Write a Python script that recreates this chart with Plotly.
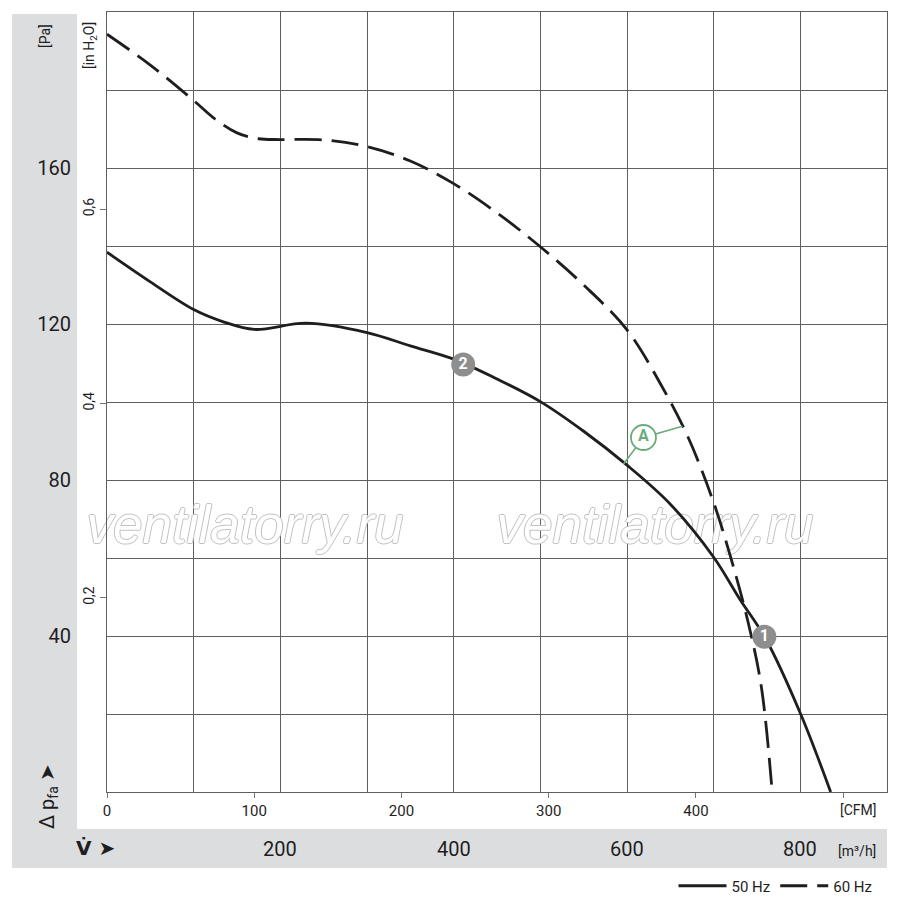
import plotly.graph_objects as go

# ---------------- data (flow in m3/h, static pressure in Pa) ----------------
flow_50hz = [0, 50, 100, 135, 170, 230, 300, 350, 400, 450, 500, 550, 600,
             650, 700, 730, 760, 800, 835]
pa_50hz = [138.4, 130.8, 123.7, 120.5, 118.6, 120.2, 117.8, 114.4, 111.0, 105.9, 100.1,
           92.5, 83.8, 73.8, 60.2, 49.5, 39.3, 20.2, 0.0]

flow_60hz = [0, 50, 100, 125, 150, 175, 200, 250, 300, 350, 400, 450, 500, 550, 600,
             640, 670, 700, 720, 740, 755, 767.5]
pa_60hz = [194.3, 186.4, 177.3, 172.5, 169.0, 167.5, 167.3, 167.2, 165.5, 161.8, 156.0,
           148.5, 139.8, 130.0, 118.5, 104.1, 91.2, 74.2, 59.9, 43.3, 27.0, 0.0]

# numbered operating points
point_labels = ["1", "2"]
point_flow = [758.5, 411]
point_pa = [39.8, 109.6]

# "A" callout: circle centre and the two curve points it refers to
a_label = "A"
a_center = (619, 90.9)
a_on_50hz = (596, 84.1)
a_on_60hz = (664, 93.8)

pa_tick_labels = [40, 80, 120, 160]
inh2o_ticks = [0.2, 0.4, 0.6]
cfm_ticks = [0, 100, 200, 300, 400, 500]
cfm_labels = ["0", "100", "200", "300", "400", ""]
m3h_labels = [200, 400, 600, 800]
series_names = ["50 Hz", "60 Hz"]
watermark = "ventilatorry.ru"

FLOW_MAX = 900
PA_MAX = 200
M3H_PER_CFM = 1.69901
PA_PER_INH2O = 249.089

# ---------------- styling ----------------
FONT = "Roboto, Liberation Sans, sans-serif"
INK = "#1e1e1e"
GRID = "#5f5f5f"
BAND = "#dcdddf"
GREEN = "#6aaa7a"
BADGE = "#8e8e8e"


def px_x(px):
    return (px - 107) / 780.0


def px_y(py):
    return (792 - py) / 780.0


fig = go.Figure()

# watermark first so the curves are drawn over it
outline = "1px 0 0 #c2c2c2, -1px 0 0 #c2c2c2, 0 1px 0 #c2c2c2, 0 -1px 0 #c2c2c2"
fig.add_trace(go.Scatter(
    x=[px_x(245) * FLOW_MAX, px_x(655) * FLOW_MAX],
    y=[px_y(530) * PA_MAX, px_y(530) * PA_MAX],
    mode="text", text=[watermark, watermark], textposition="middle center",
    textfont=dict(family="Liberation Sans, Arial, sans-serif", size=53, color="white",
                  style="italic", shadow=outline),
    showlegend=False, hoverinfo="skip", cliponaxis=False))

fig.add_trace(go.Scatter(
    x=flow_50hz, y=pa_50hz, mode="lines", name=series_names[0],
    line=dict(color=INK, width=2.8, shape="spline", smoothing=1.0),
    xaxis="x", yaxis="y", hoverinfo="skip"))
fig.add_trace(go.Scatter(
    x=flow_60hz, y=pa_60hz, mode="lines", name=series_names[1],
    line=dict(color=INK, width=2.8, shape="spline", smoothing=1.0, dash="27px,10px"),
    xaxis="x", yaxis="y", hoverinfo="skip"))

# A callout leader lines (curve point -> circle centre), then the circle
for pt in (a_on_50hz, a_on_60hz):
    fig.add_trace(go.Scatter(
        x=[pt[0], a_center[0]], y=[pt[1], a_center[1]], mode="lines",
        line=dict(color=GREEN, width=1.6), showlegend=False, hoverinfo="skip"))
fig.add_trace(go.Scatter(
    x=[a_center[0]], y=[a_center[1]], mode="markers+text", text=[a_label],
    marker=dict(size=25, color="white", line=dict(color=GREEN, width=1.8)),
    textfont=dict(family=FONT, size=16, color=GREEN, weight="bold"),
    textposition="middle center", showlegend=False, hoverinfo="skip"))

# numbered badges
fig.add_trace(go.Scatter(
    x=point_flow, y=point_pa, mode="markers+text", text=point_labels,
    marker=dict(size=24, color=BADGE, line=dict(width=0)),
    textfont=dict(family=FONT, size=16, color="white", weight="bold"),
    textposition="middle center", showlegend=False, hoverinfo="skip"))

# invisible traces to realise the secondary axes (CFM and in H2O)
fig.add_trace(go.Scatter(x=[0, FLOW_MAX / M3H_PER_CFM], y=[0, 0], xaxis="x2", yaxis="y",
                         mode="lines", line=dict(width=0), showlegend=False, hoverinfo="skip"))
fig.add_trace(go.Scatter(x=[0, 0], y=[0, PA_MAX / PA_PER_INH2O], xaxis="x", yaxis="y2",
                         mode="lines", line=dict(width=0), showlegend=False, hoverinfo="skip"))

pa_grid = list(range(0, PA_MAX + 1, 20))
fig.update_layout(
    width=900, height=898, autosize=False,
    margin=dict(l=107, r=13, t=12, b=106, autoexpand=False),
    paper_bgcolor="white", plot_bgcolor="white",
    separators=", ",
    font=dict(family=FONT, color=INK, size=16),
    showlegend=True,
    legend=dict(orientation="h", xref="container", yref="container",
                x=0.975, xanchor="right", y=(898 - 886) / 898, yanchor="middle",
                font=dict(family=FONT, size=15, color=INK), bgcolor="rgba(0,0,0,0)",
                itemwidth=48, tracegroupgap=0),
    xaxis=dict(range=[0, FLOW_MAX], dtick=100, showgrid=True, gridcolor=GRID, gridwidth=1,
               showline=True, linecolor=GRID, linewidth=1, mirror=True, automargin=False,
               showticklabels=False, ticks="", zeroline=False, fixedrange=True),
    xaxis2=dict(range=[0, FLOW_MAX / M3H_PER_CFM], overlaying="x", anchor="y", side="bottom",
                tickvals=cfm_ticks, ticktext=cfm_labels, ticks="outside", ticklen=5,
                tickcolor="#777", ticklabelstandoff=0, automargin=False,
                showgrid=False, showline=False, zeroline=False,
                tickfont=dict(family=FONT, size=15, color=INK), fixedrange=True),
    yaxis=dict(range=[0, PA_MAX], tickvals=pa_grid,
               ticktext=[str(v) if v in pa_tick_labels else "" for v in pa_grid],
               showgrid=True, gridcolor=GRID, gridwidth=1, automargin=False,
               showline=True, linecolor=GRID, linewidth=1, mirror=True,
               ticks="", zeroline=False, ticklabelstandoff=31,
               tickfont=dict(family=FONT, size=20, color=INK), fixedrange=True),
    yaxis2=dict(range=[0, PA_MAX / PA_PER_INH2O], overlaying="y", anchor="x", side="left",
                tickvals=inh2o_ticks, tickformat=".1f", ticks="outside", ticklen=6,
                tickcolor="#777", tickangle=-90, showgrid=False, showline=False,
                zeroline=False, automargin=False,
                tickfont=dict(family=FONT, size=14, color=INK), fixedrange=True),
)

# gray bands
fig.add_shape(type="rect", xref="paper", yref="paper", x0=px_x(12), x1=px_x(77),
              y0=px_y(868), y1=px_y(14), fillcolor=BAND, line=dict(width=0), layer="below")
fig.add_shape(type="rect", xref="paper", yref="paper", x0=px_x(12), x1=px_x(887),
              y0=px_y(868), y1=px_y(829), fillcolor=BAND, line=dict(width=0), layer="below")


def label(text, x, y, size, xref="paper", angle=0, **font):
    f = dict(size=size)
    f.update(font)
    return dict(text=text, x=x, y=y, xref=xref, yref="paper", xanchor="center",
                yanchor="middle", textangle=angle, showarrow=False, font=f)


ann = [
    label("[Pa]", px_x(45), px_y(36), 14, angle=-90),
    label("[in H<sub>2</sub>O]", px_x(90), px_y(46), 14, angle=-90),
    label("Δ p<sub>fa</sub> ➤", px_x(48), px_y(797), 20, angle=-90),
    label("V̇ ➤", px_x(95), px_y(848), 20, family="DejaVu Sans", weight="bold"),
    label("[m³/h]", px_x(857), px_y(851), 14),
    label("[CFM]", px_x(858), px_y(810), 14),
]
for v in m3h_labels:
    ann.append(label(str(v), v, px_y(849), 20, xref="x"))
fig.update_layout(annotations=ann)

fig.write_html("out.html", config={"displayModeBar": False},
               post_script="document.body.style.margin='0px';")
